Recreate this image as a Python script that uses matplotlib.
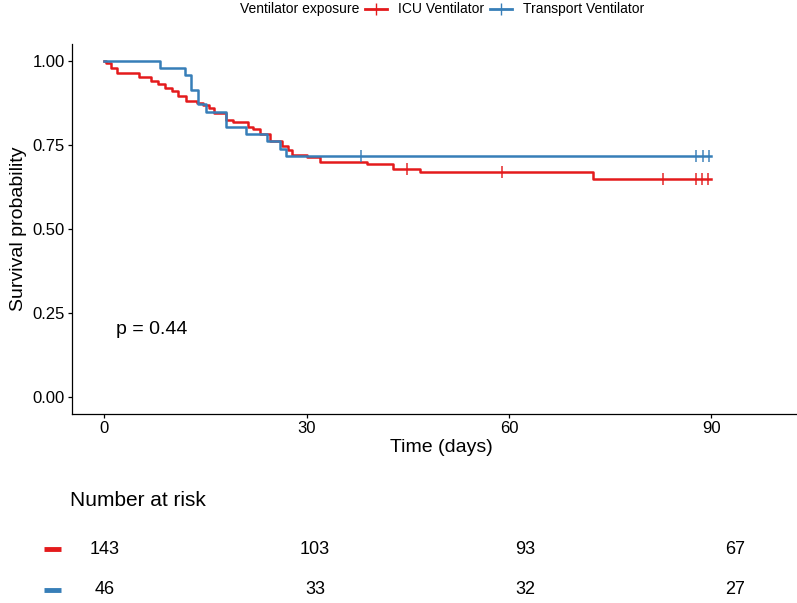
import numpy as np
import matplotlib
matplotlib.use("Agg")
import matplotlib.pyplot as plt

plt.rcParams["font.family"] = ["Liberation Sans", "DejaVu Sans"]

RED = "#E41A1C"
BLUE = "#377EB8"

# Kaplan-Meier steps (days, survival)
icu_time = [0, 0.3, 1.0, 1.9, 5.2, 7.0, 8.0, 9.0, 10.0, 11.0, 12.1, 13.7, 14.6,
            15.5, 16.2, 18.1, 19.1, 21.3, 22.1, 23.1, 24.5, 26.3, 27.3, 27.8,
            30.0, 32.0, 38.9, 42.8, 46.8, 72.5]
icu_surv = [1.0, 0.993, 0.979, 0.965, 0.951, 0.941, 0.930, 0.920, 0.909, 0.895,
            0.881, 0.874, 0.867, 0.860, 0.846, 0.825, 0.818, 0.804, 0.797, 0.783,
            0.762, 0.748, 0.734, 0.720, 0.713, 0.700, 0.692, 0.678, 0.670, 0.650]
icu_cens = [44.9, 58.9, 82.9, 87.7, 88.6, 89.5]

tr_time = [0, 8.2, 12.0, 12.8, 13.9, 15.1, 18.0, 21.0, 24.1, 26.0, 27.0]
tr_surv = [1.0, 0.978, 0.957, 0.913, 0.870, 0.848, 0.804, 0.783, 0.761, 0.739, 0.717]
tr_cens = [38.0, 87.7, 88.7, 89.7]

end_time = 90
risk_times = [0, 30, 60, 90]
icu_risk = [143, 103, 93, 67]
tr_risk = [46, 33, 32, 27]
groups = ["ICU Ventilator", "Transport Ventilator"]

W, H = 797, 603
fig = plt.figure(figsize=(W / 100, H / 100), dpi=100)


def fx(px):
    return px / W


def fy(py):
    return 1 - py / H


ax = fig.add_axes([fx(71.7), fy(414.1), fx(797 - 71.7), (414.1 - 43.9) / H])


def km(t, s, cens, col, label):
    tt = list(t) + [end_time]
    ss = list(s) + [s[-1]]
    ax.step(tt, ss, where="post", color=col, lw=1.8, label=label)
    idx = np.searchsorted(t, cens, side="right") - 1
    ax.plot(cens, np.array(s)[idx], ls="none", marker="|", ms=9, mew=1.3,
            color=col, alpha=0.8)


km(icu_time, icu_surv, icu_cens, RED, groups[0])
km(tr_time, tr_surv, tr_cens, BLUE, groups[1])

ax.set_xlim(-4.83, 102.7)
ax.set_ylim(-0.05, 1.05)
ax.set_xticks(risk_times)
ax.set_yticks([0, 0.25, 0.5, 0.75, 1.0])
ax.set_yticklabels(["0.00", "0.25", "0.50", "0.75", "1.00"])
for side in ["top", "right"]:
    ax.spines[side].set_visible(False)
for side in ["left", "bottom"]:
    ax.spines[side].set_linewidth(0.9)
ax.tick_params(labelsize=12, length=3, width=0.9, pad=2, colors="black")
ax.set_ylabel("Survival probability", fontsize=14, labelpad=4)
fig.text(fx(441), fy(447), "Time (days)", fontsize=14, ha="center", va="center")
ax.text(1.8, 0.2, "p = 0.44", fontsize=14, ha="left", va="center")

# legend on top
fig.text(fx(240), fy(9), "Ventilator exposure", fontsize=10, ha="left", va="center")
for x0, col, lab in [(365, RED, groups[0]), (490, BLUE, groups[1])]:
    fig.lines.append(plt.Line2D([fx(x0), fx(x0 + 22)], [fy(9), fy(9)],
                                color=col, lw=2, transform=fig.transFigure))
    fig.lines.append(plt.Line2D([fx(x0 + 11)], [fy(9)], marker="|", ms=8,
                                color=col, transform=fig.transFigure))
    fig.text(fx(x0 + 33), fy(9), lab, fontsize=10, ha="left", va="center")

# number at risk table
fig.text(fx(70), fy(501), "Number at risk", fontsize=15, ha="left", va="center")
ax2 = fig.add_axes([0, 0, 1, (603 - 520) / H])
ax2.set_xlim(-105 / 7.0, (W - 105) / 7.0)
ax2.set_ylim(0, 83)
ax2.axis("off")
for yrow, col, vals in [(603 - 549, RED, icu_risk), (603 - 590, BLUE, tr_risk)]:
    ax2.plot([-61 / 7.0, -44 / 7.0], [yrow, yrow], color=col, lw=3.5,
             solid_capstyle="butt")
    for t, v in zip(risk_times, vals):
        ax2.text(t, yrow, str(v), fontsize=13, ha="center", va="center")

fig.savefig("out.png", dpi=100)
